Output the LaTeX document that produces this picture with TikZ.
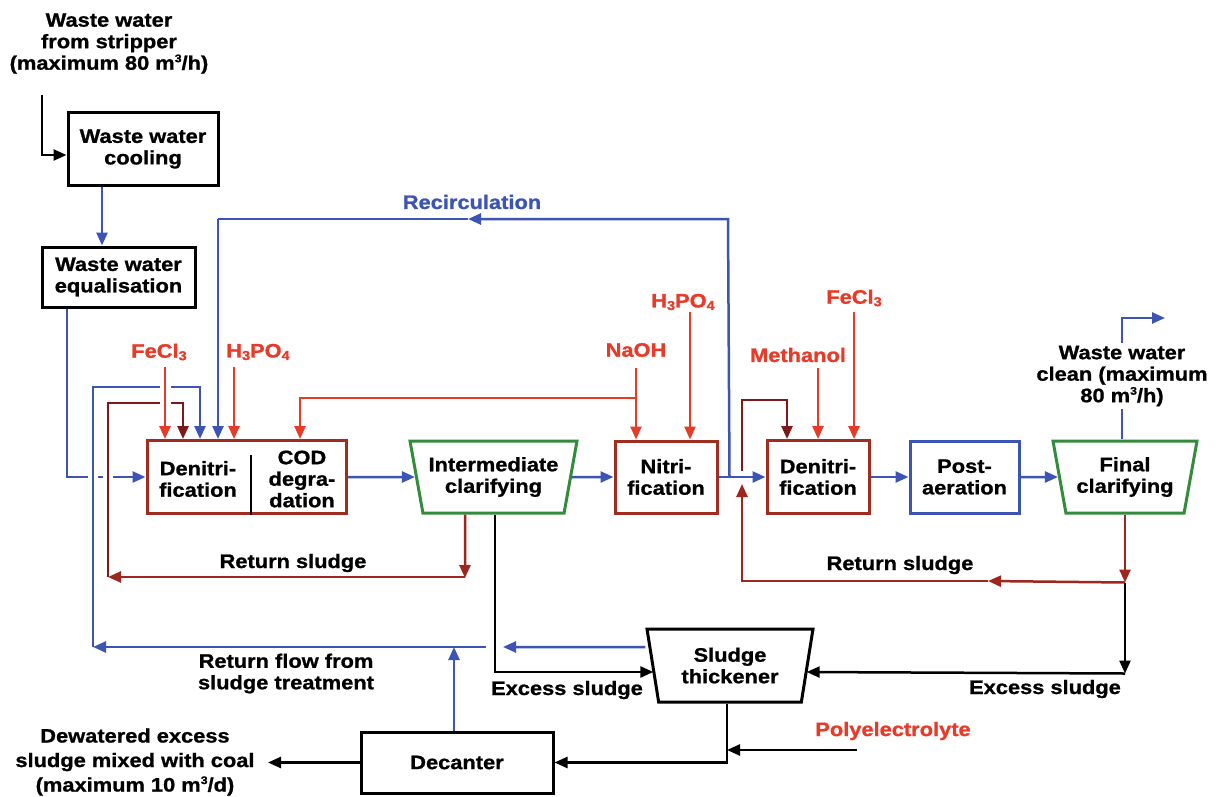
\documentclass[tikz,border=0pt]{standalone}
\usepackage{fontspec}
\setmainfont{Liberation Sans}[FakeStretch=1.12,BoldFeatures={FakeBold=1}]
\usetikzlibrary{arrows.meta,shapes.geometric,calc}
\definecolor{cblue}{RGB}{60,85,180}
\definecolor{cred}{RGB}{232,58,40}
\definecolor{cdr}{RGB}{158,38,30}
\definecolor{cddr}{RGB}{125,25,25}
\definecolor{cbox}{RGB}{160,45,32}
\definecolor{cgreen}{RGB}{50,140,60}
\newcommand{\sbs}[1]{\raisebox{-2.5pt}{\fontsize{13}{13}\selectfont #1}}
\newcommand{\sps}[1]{\raisebox{7.5pt}{\fontsize{11}{11}\selectfont #1}}
\tikzset{
 every node/.style={font=\fontsize{19.5}{21.5}\selectfont\bfseries},
 ln/.style={line width=2.5pt},
 arr/.style={-{Triangle[length=13pt,width=11pt]}},
 bl/.style={ln,draw=cblue},
 rd/.style={ln,draw=cred},
 dr/.style={ln,draw=cdr},
 ddr/.style={ln,draw=cddr},
 blk/.style={ln,draw=black},
 pbox/.style={draw=black,line width=3pt,align=center,inner sep=0pt},
 rbox/.style={pbox,draw=cbox},
 bbox/.style={pbox,draw=cblue},
 trap/.style={trapezium,trapezium left angle=108,trapezium right angle=108,trapezium stretches body,line width=3pt,align=center,inner sep=0pt},
 txt/.style={align=center,inner sep=0pt},
 rtxt/.style={txt,text=cred},
 btxt/.style={txt,text=cblue},
}
\begin{document}
\begin{tikzpicture}[x=1pt,y=-1pt]
\useasboundingbox (0,0) rectangle (1223,797);
\fill[white] (0,0) rectangle (1223,797);

% ---------- nodes ----------
\node[txt] (lin) at (109,43.5) {Waste water\\from stripper\\(maximum 80 m\sps{3}/h)};
\node[pbox,minimum width=150pt,minimum height=72pt] (cool) at (143,149) {Waste water\\cooling};
\node[pbox,minimum width=153pt,minimum height=60pt] (eq) at (118.5,277) {Waste water\\equalisation};
\node[rbox,minimum width=199pt,minimum height=73pt] (d1) at (246.5,477) {};
\node[txt] (d1a) at (198,479) {Denitri-\\fication};
\node[txt] (d1b) at (302,479) {COD\\degra-\\dation};
\node[trap,draw=cgreen,minimum width=167pt,minimum height=72pt] (ic) at (493.5,477) {Intermediate\\clarifying};
\node[rbox,minimum width=102pt,minimum height=72pt] (nit) at (666,477) {Nitri-\\fication};
\node[rbox,minimum width=102pt,minimum height=73pt] (den2) at (818,477) {Denitri-\\fication};
\node[bbox,minimum width=109pt,minimum height=72pt] (post) at (964.5,477) {Post-\\aeration};
\node[trap,draw=cgreen,minimum width=144pt,minimum height=72pt] (fc) at (1125,477) {Final\\clarifying};
\node[trap,draw=black,minimum width=166pt,minimum height=73pt] (thk) at (730,665.5) {Sludge\\thickener};
\node[pbox,minimum width=192pt,minimum height=61pt] (dec) at (457,762.5) {Decanter};

\node[rtxt] (fe1) at (159,352) {FeCl\sbs{3}};
\node[rtxt] (hp1) at (258,352) {H\sbs{3}PO\sbs{4}};
\node[rtxt] (naoh) at (636,350) {NaOH};
\node[rtxt] (hp2) at (683,302) {H\sbs{3}PO\sbs{4}};
\node[rtxt] (meth) at (798,355) {Methanol};
\node[rtxt] (fe2) at (854,298) {FeCl\sbs{3}};
\node[rtxt] (poly) at (893,731) {Polyelectrolyte};
\node[btxt] (recl) at (472,202) {Recirculation};
\node[txt] (rs1) at (293,563) {Return sludge};
\node[txt] (rs2) at (900,565) {Return sludge};
\node[txt] (es1) at (567,690) {Excess sludge};
\node[txt] (es2) at (1045,689) {Excess sludge};
\node[txt] (rfl) at (286,673.5) {Return flow from\\sludge treatment};
\node[txt,font=\fontsize{19.5}{24.5}\selectfont\bfseries] (dew) at (135,762) {Dewatered excess\\sludge mixed with coal\\(maximum 10 m\sps{3}/d)};

\draw[line width=2.5pt] ($(d1.south)+(4.5,0)$) -- ++(0,-60);

% ---------- coordinates ----------
\coordinate (in0) at (42,95);
\coordinate (rc0) at ($(nit.east)+(11,0)$);
\coordinate (rcA) at (728,219);
\coordinate (rcM) at (468,219);
\coordinate (rcB) at (218,219);
\coordinate (rfA) at ($(thk.west)+(-6,-18.5)$);
\coordinate (rfB) at (503,647);
\coordinate (rfC) at (486,647);
\coordinate (rfD) at (93,647);
\coordinate (rfF) at (200,387);
\coordinate (rl0) at ($(ic.south)+(-28.5,0)$);
\coordinate (rl1) at (465,578);
\coordinate (rl2) at (108,577);
\coordinate (rl4) at (183,403);
\coordinate (ex0) at ($(ic.south)+(1.5,0)$);
\coordinate (ex1) at ($(thk.west)+(2,6.5)$);
\coordinate (na0) at (636,368);
\coordinate (na1) at (636,398);
\coordinate (na2) at (300,398);
\coordinate (hp2s) at (690,312);
\coordinate (me0) at (818,368);
\coordinate (fe2s) at (854,312);
\coordinate (fe1s) at (165,367);
\coordinate (hp1s) at (234,367);
\coordinate (jr) at ($(fc.south)+(0,68)$);
\coordinate (rm) at (988,581);
\coordinate (rc) at (742,581);
\coordinate (rup) at (742,484);
\coordinate (rt0) at (742,471);
\coordinate (rt1) at (787,400);
\coordinate (jb) at ($(fc.south)+(0,159)$);
\coordinate (ex2) at ($(thk.east)+(-2,6.5)$);
\coordinate (tk0) at ($(thk.south)+(-3,0)$);
\coordinate (pe0) at (857,750);
\coordinate (dout) at (268,762.5);
\coordinate (oe) at (1165,318);

% ---------- connectors ----------
\draw[blk,arr] (in0) |- ([yshift=-6pt]cool.west);
\draw[bl,arr] ([xshift=-41pt]cool.south) -- ([xshift=-41pt]cool.south |- eq.north);
\draw[bl,arr] ([xshift=-51.5pt]eq.south) |- (d1.west);
\fill[white] (88,471) rectangle (98,483);
\fill[white] (103,471) rectangle (113,483);

\draw[bl,arr] (d1) -- (ic);
\draw[bl,arr] (ic) -- (nit);
\draw[bl,arr] (nit) -- (den2);
\draw[bl,arr] (den2) -- (post);
\draw[bl,arr] (post) -- (fc);

% recirculation
\draw[bl,arr] (rc0) -- (rcA) -- (rcM);
\draw[bl] (rcM) -- (rcB);
\draw[bl,arr] (rcB) -- (rcB |- d1.north);

% return flow from sludge treatment
\draw[bl,arr] (rfA) -- (rfB);
\draw[bl,arr] (rfC) -- (rfD);
\draw[bl,arr] (rfD) |- (rfF) -- (rfF |- d1.north);
\draw[bl,arr] ([xshift=-3pt]dec.north) -- ([xshift=-3pt]dec.north |- rfD);

% return sludge (left)
\draw[dr,arr] (rl0) -- (rl1);
\draw[dr,arr] (rl1 |- rl2) -- (rl2);
\draw[ddr,arr] (rl2) |- (rl4) -- (rl4 |- d1.north);

% chemicals
\fill[white] (159.5,381) rectangle (170.5,393);
\fill[white] (159.5,397) rectangle (170.5,409);
\draw[rd,arr] (fe1s) -- (fe1s |- d1.north);
\draw[rd,arr] (hp1s) -- (hp1s |- d1.north);
\draw[rd,arr] (na0) -- (na0 |- nit.north);
\draw[rd,arr] (na1) -- (na2) -- (na2 |- d1.north);
\draw[rd,arr] (hp2s) -- (hp2s |- nit.north);
\draw[rd,arr] (me0) -- (me0 |- den2.north);
\draw[rd,arr] (fe2s) -- (fe2s |- den2.north);

% excess sludge (left)
\draw[blk,arr] (ex0) |- (ex1);

% return sludge (right)
\draw[dr,arr] (fc.south) -- (jr);
\draw[dr,arr] (jr) -- (rm);
\draw[dr,arr] (rm) -- (rc) -- (rup);
\draw[ddr,arr] (rt0) |- (rt1) -- (rt1 |- den2.north);

% excess sludge (right)
\draw[blk,arr] (jr) -- (jb);
\draw[blk,arr] (jb) -- (ex2);

% thickener -> decanter
\draw[blk,arr] (tk0) |- (dec.east);
\draw[blk,arr] (pe0) -- (pe0 -| tk0);
\draw[blk,arr] (dec.west) -- (dout);

% clean water out
\node[txt,fill=white,inner sep=3pt] (lout) at (1122,376) {Waste water\\clean (maximum\\80 m\sps{3}/h)};
\draw[bl] ([xshift=-3pt]fc.north) -- ([xshift=-3pt]fc.north |- lout.south);
\draw[bl,arr] ([xshift=-3pt]fc.north |- lout.north) |- (oe);
\end{tikzpicture}
\end{document}
